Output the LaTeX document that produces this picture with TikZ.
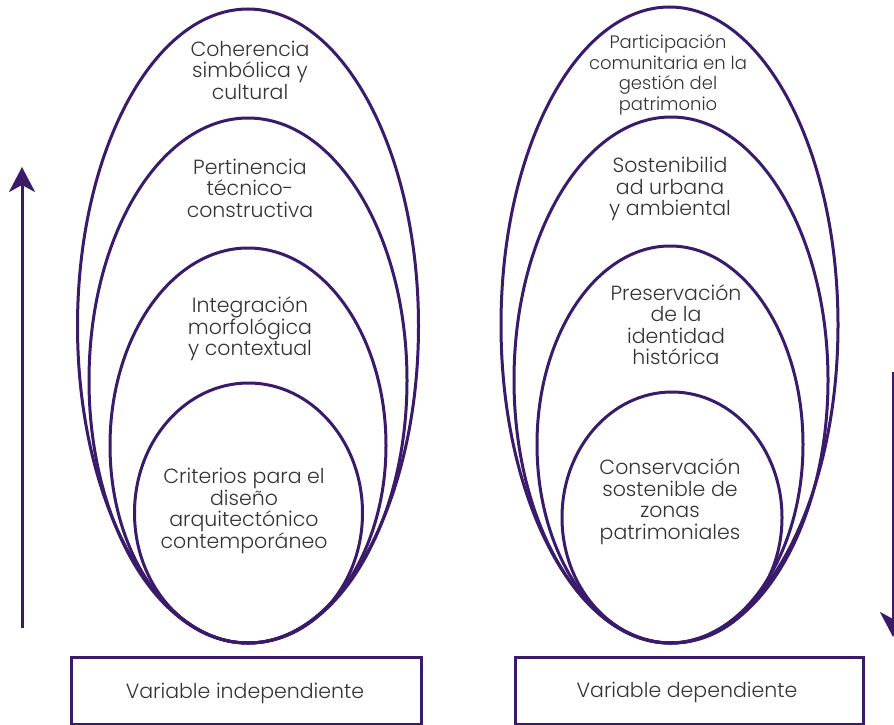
\documentclass[tikz,border=0pt]{standalone}
\usepackage{fontspec}
\setmainfont{Poppins Light}
\usetikzlibrary{shapes.geometric,arrows.meta}
\definecolor{purp}{HTML}{3A1A6A}
\definecolor{txt}{HTML}{333333}
\tikzset{
  ring/.style={draw=purp, line width=3pt, ellipse, inner sep=0pt, outer sep=0pt},
  lbl/.style={text=txt, align=center, font=\fontsize{20.5}{21.5}\selectfont, inner sep=0pt},
  small/.style={text=txt, align=center, font=\fontsize{18}{20.6}\selectfont, inner sep=0pt},
  varbox/.style={draw=purp, line width=3pt, inner sep=0pt},
  bigarrow/.style={draw=purp, line width=3pt, -{Stealth[length=25pt,width=26pt,inset=7pt]}},
}
\begin{document}
\begin{tikzpicture}[x=1pt,y=-1pt]
\useasboundingbox (0,0) rectangle (894,725);
% left ellipses
\node[ring, minimum width=341pt, minimum height=634pt] (L1) at (248,326) {};
\node[ring, minimum width=318pt, minimum height=525pt] (L2) at (248,380.5) {};
\node[ring, minimum width=276pt, minimum height=395pt] (L3) at (248,445.5) {};
\node[ring, minimum width=228pt, minimum height=260pt] (L4) at (248.5,513) {};
% right ellipses
\node[ring, minimum width=337pt, minimum height=636pt] (R1) at (669.5,325) {};
\node[ring, minimum width=314pt, minimum height=526pt] (R2) at (671,380) {};
\node[ring, minimum width=266pt, minimum height=397pt] (R3) at (670,444.5) {};
\node[ring, minimum width=220pt, minimum height=251pt] (R4) at (672,517.5) {};
% left texts
\node[lbl] (tL1) at (250,70) {Coherencia\\simbólica y\\cultural};
\node[lbl] (tL2) at (250,188) {Pertinencia\\técnico-\\constructiva};
\node[lbl] (tL3) at (250,329) {Integración\\morfológica\\y contextual};
\node[lbl] (tL4) at (244,511) {Criterios para el\\diseño\\arquitectónico\\contemporáneo};
% right texts
\node[small] (tR1) at (668,75) {Participación\\comunitaria en la\\gestión del\\patrimonio};
\node[lbl] (tR2) at (670,189) {Sostenibilid\\ad urbana\\y ambiental};
\node[lbl] (tR3) at (676,324.5) {Preservación\\de la\\identidad\\histórica};
\node[lbl] (tR4) at (670,501.5) {Conservación\\sostenible de\\zonas\\patrimoniales};
% boxes
\node[varbox, minimum width=350pt, minimum height=67pt] (bL) at (246,690.5) {};
\node[varbox, minimum width=348pt, minimum height=67pt] (bR) at (689,690.5) {};
\node[lbl] (tbL) at (245,693) {Variable independiente};
\node[lbl] (tbR) at (687,692) {Variable dependiente};
% arrows
\coordinate (aLs) at (22,628);
\coordinate (aLe) at (22,167);
\coordinate (aRs) at (893,372);
\coordinate (aRe) at (893,637);
\draw[bigarrow] (aLs) -- (aLe);
\draw[bigarrow] (aRs) -- (aRe);
\end{tikzpicture}
\end{document}
